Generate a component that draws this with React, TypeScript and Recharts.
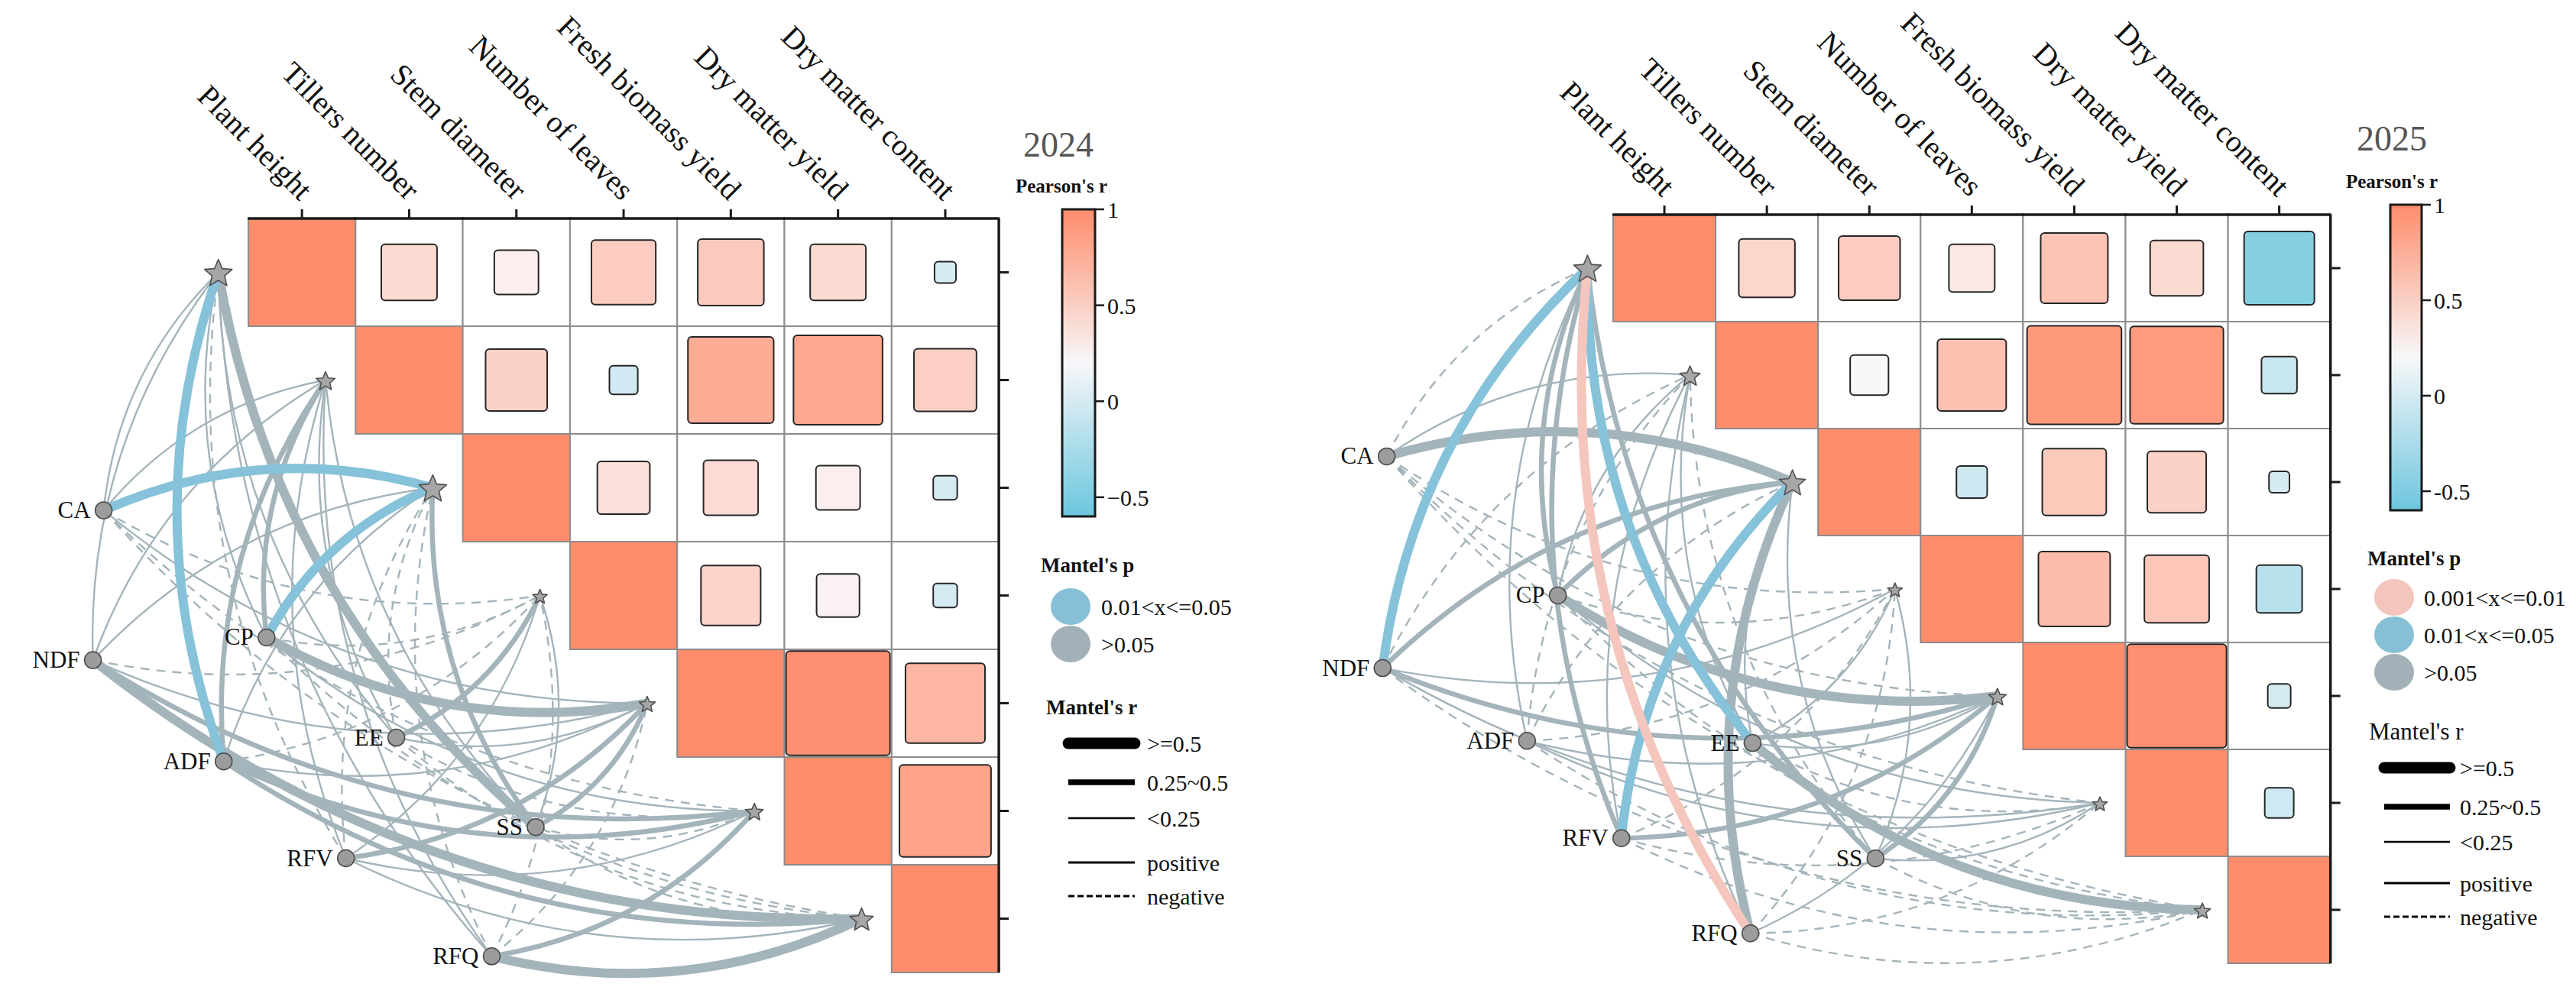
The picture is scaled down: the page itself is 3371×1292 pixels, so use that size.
import React from "react";
import { ScatterChart, Scatter, XAxis, YAxis } from "recharts";

const FONT = "Liberation Serif, Times New Roman, serif";
const PAGE_W = 3371;
const PAGE_H = 1292;

const specLabels = [
  "Plant height",
  "Tillers number",
  "Stem diameter",
  "Number of leaves",
  "Fresh biomass yield",
  "Dry matter yield",
  "Dry matter content",
];
const envLabels = ["CA", "CP", "NDF", "EE", "ADF", "SS", "RFV", "RFQ"];

// Pearson's r, upper triangle: row i holds columns i..6
const pearson2024 = [
  [1, 0.27, 0.17, 0.36, 0.38, 0.27, -0.04],
  [1, 0.33, -0.07, 0.64, 0.69, 0.34],
  [1, 0.24, 0.26, 0.17, -0.05],
  [1, 0.31, 0.16, -0.05],
  [1, 0.94, 0.55],
  [1, 0.73],
  [1],
];
const pearson2025 = [
  [1, 0.3, 0.36, 0.2, 0.43, 0.27, -0.47],
  [1, 0.14, 0.45, 0.85, 0.83, -0.12],
  [1, -0.09, 0.39, 0.33, -0.04],
  [1, 0.49, 0.4, -0.2],
  [1, 0.94, -0.05],
  [1, -0.08],
  [1],
];

// Mantel's r / p, rows follow envLabels, columns follow specLabels
const mantelR2024 = [
  [0.12, 0.1, 0.55, -0.1, 0.12, -0.08, -0.06],
  [0.15, 0.3, 0.52, -0.1, 0.5, 0.12, -0.1],
  [0.1, 0.12, 0.14, -0.12, 0.2, 0.35, 0.5],
  [0.1, 0.12, -0.08, 0.3, 0.14, -0.1, -0.08],
  [0.52, 0.3, 0.15, -0.1, 0.12, 0.4, 0.3],
  [0.52, 0.12, 0.4, 0.1, 0.28, -0.1, -0.12],
  [-0.08, 0.12, -0.06, 0.1, 0.26, 0.12, 0.18],
  [0.1, 0.1, -0.08, -0.1, -0.12, 0.3, 0.55],
];
const mantelP2024 = [
  [0.3, 0.4, 0.03, 0.6, 0.3, 0.6, 0.7],
  [0.2, 0.1, 0.04, 0.5, 0.07, 0.3, 0.6],
  [0.4, 0.3, 0.3, 0.6, 0.2, 0.08, 0.07],
  [0.4, 0.3, 0.6, 0.1, 0.3, 0.5, 0.6],
  [0.04, 0.1, 0.2, 0.6, 0.3, 0.07, 0.1],
  [0.06, 0.3, 0.1, 0.4, 0.1, 0.6, 0.5],
  [0.6, 0.3, 0.7, 0.4, 0.1, 0.3, 0.2],
  [0.4, 0.4, 0.6, 0.5, 0.5, 0.1, 0.06],
];
const mantelR2025 = [
  [-0.1, 0.1, 0.5, -0.1, -0.08, -0.1, -0.06],
  [0.3, 0.12, 0.28, -0.1, 0.5, 0.12, -0.1],
  [0.55, -0.1, 0.35, 0.2, 0.26, 0.18, -0.1],
  [0.5, 0.12, 0.15, 0.1, 0.2, -0.08, 0.5],
  [0.1, -0.08, -0.1, -0.08, 0.12, 0.12, -0.1],
  [0.3, -0.1, 0.12, 0.1, 0.3, 0.15, -0.1],
  [0.28, 0.1, 0.5, -0.1, 0.26, -0.1, -0.12],
  [0.5, 0.1, 0.5, -0.1, 0.12, -0.1, -0.12],
];
const mantelP2025 = [
  [0.5, 0.4, 0.1, 0.6, 0.6, 0.5, 0.7],
  [0.1, 0.3, 0.1, 0.5, 0.06, 0.3, 0.6],
  [0.02, 0.5, 0.1, 0.2, 0.1, 0.2, 0.5],
  [0.03, 0.3, 0.2, 0.4, 0.2, 0.6, 0.08],
  [0.4, 0.6, 0.5, 0.6, 0.3, 0.3, 0.6],
  [0.1, 0.5, 0.3, 0.4, 0.1, 0.2, 0.5],
  [0.1, 0.4, 0.03, 0.5, 0.1, 0.6, 0.5],
  [0.008, 0.4, 0.07, 0.5, 0.3, 0.6, 0.5],
];

// node layout in cell units (column / row of the heatmap)
const envLayout2024 = [
  [-1.85, 2.21], [-0.33, 3.39], [-1.95, 3.6], [0.88, 4.32],
  [-0.73, 4.54], [2.18, 5.15], [0.41, 5.44], [1.77, 6.35],
];
const envLayout2025 = [
  [-2.71, 1.76], [-1.04, 3.06], [-2.75, 3.74], [0.86, 4.44],
  [-1.34, 4.42], [2.06, 5.52], [-0.42, 5.33], [0.84, 6.22],
];
const starSize2024 = [19, 13, 19, 10, 11, 12, 16];
const starSize2025 = [19, 14, 18, 10, 12, 10, 11];

const SALMON = [255, 140, 107];
const WHITE = [250, 248, 250];
const SKY = [108, 198, 222];

function mix(a: number[], b: number[], t: number) {
  const c = a.map((v, i) => Math.round(v + (b[i] - v) * t));
  return `rgb(${c[0]},${c[1]},${c[2]})`;
}
function pearsonColor(r: number) {
  if (r >= 0.15) return mix(WHITE, SALMON, Math.pow(Math.min(1, (r - 0.15) / 0.85), 0.65));
  return mix(WHITE, SKY, Math.min(1, (0.15 - r) / 0.75));
}
function linkColor(p: number) {
  if (p <= 0.01) return "#F4C6BD";
  if (p <= 0.05) return "#86C2D9";
  return "#A4B4BB";
}
function linkWidth(r: number) {
  const a = Math.abs(r);
  if (a >= 0.5) return 12;
  if (a >= 0.25) return 6.5;
  return 2.4;
}
function starPoints(cx: number, cy: number, R: number) {
  const pts: string[] = [];
  for (let i = 0; i < 10; i++) {
    const rad = i % 2 === 0 ? R : R * 0.45;
    const a = -Math.PI / 2 + (i * Math.PI) / 5;
    pts.push(`${cx + rad * Math.cos(a)},${cy + rad * Math.sin(a)}`);
  }
  return pts.join(" ");
}

const panels = [
  {
    key: "2024",
    left: 0,
    width: 1680,
    gridLeft: 325,
    gridTop: 286,
    cellW: 140.3,
    cellH: 141,
    starShift: 0.78,
    pearson: pearson2024,
    mantelR: mantelR2024,
    mantelP: mantelP2024,
    envLayout: envLayout2024,
    starSize: starSize2024,
  },
  {
    key: "2025",
    left: 1680,
    width: 1691,
    gridLeft: 431,
    gridTop: 281,
    cellW: 134.1,
    cellH: 140,
    starShift: 0.75,
    pearson: pearson2025,
    mantelR: mantelR2025,
    mantelP: mantelP2025,
    envLayout: envLayout2025,
    starSize: starSize2025,
  },
];

function Panel({ cfg }: { cfg: (typeof panels)[number] }) {
  const { cellW, cellH } = cfg;
  const xDom = [-0.5 - cfg.gridLeft / cellW, -0.5 + (cfg.width - cfg.gridLeft) / cellW];
  const yDom = [-0.5 - cfg.gridTop / cellH, -0.5 + (PAGE_H - cfg.gridTop) / cellH];

  const cells = cfg.pearson.flatMap((row, i) =>
    row.map((r, k) => ({ x: i + k, y: i, r, diag: k === 0 }))
  );
  const header = specLabels.map((label, i) => ({ x: i, y: -0.5, label }));
  const rightEdge = specLabels.map((_, i) => ({ x: 6.5, y: i }));
  const stars = specLabels.map((_, i) => ({ x: i - cfg.starShift, y: i, size: cfg.starSize[i] }));
  const envs = envLabels.map((label, k) => ({ x: cfg.envLayout[k][0], y: cfg.envLayout[k][1], label }));

  const links = envLabels.flatMap((_, e) =>
    specLabels.map((__, s) => ({ e, s, r: cfg.mantelR[e][s], p: cfg.mantelP[e][s] }))
  );
  const rank = (l: { r: number; p: number }) => (l.p <= 0.05 ? 10 : 0) + linkWidth(l.r);
  links.sort((a, b) => rank(a) - rank(b));
  const linkPts = links.flatMap((l) => [
    { x: envs[l.e].x, y: envs[l.e].y },
    { x: stars[l.s].x, y: stars[l.s].y },
  ]);

  const drawLinks = (lp: any) => {
    const pts = lp.points || [];
    return (
      <g>
        {links.map((l, k) => {
          const a = pts[2 * k];
          const b = pts[2 * k + 1];
          if (!a || !b) return null;
          const dx = b.x - a.x;
          const dy = b.y - a.y;
          const up = l.s <= 2;
          const px = up ? dy : -dy;
          const py = up ? -dx : dx;
          const c = 0.18;
          const qx = (a.x + b.x) / 2 + px * c;
          const qy = (a.y + b.y) / 2 + py * c;
          return (
            <path
              key={k}
              d={`M${a.x},${a.y} Q${qx},${qy} ${b.x},${b.y}`}
              fill="none"
              stroke={linkColor(l.p)}
              strokeWidth={linkWidth(l.r)}
              strokeDasharray={l.r < 0 ? "12 9" : undefined}
            />
          );
        })}
      </g>
    );
  };

  return (
    <div style={{ position: "absolute", left: cfg.left, top: 0 }}>
      <ScatterChart width={cfg.width} height={PAGE_H} margin={{ top: 0, right: 0, bottom: 0, left: 0 }}>
        <XAxis type="number" dataKey="x" domain={xDom} hide allowDataOverflow />
        <YAxis type="number" dataKey="y" domain={yDom} reversed hide allowDataOverflow />
        <Scatter
          data={cells}
          isAnimationActive={false}
          shape={(p: any) => {
            const { cx, cy, payload } = p;
            const fill = pearsonColor(payload.r);
            const s = Math.sqrt(Math.abs(payload.r));
            return (
              <g>
                <rect x={cx - cellW / 2} y={cy - cellH / 2} width={cellW} height={cellH}
                  fill={payload.diag ? fill : "#fff"} stroke="#8c8c8c" strokeWidth={2} />
                {!payload.diag && (
                  <rect x={cx - (s * cellW) / 2} y={cy - (s * cellH) / 2} width={s * cellW} height={s * cellH}
                    rx={5} fill={fill} stroke="#262626" strokeWidth={2} />
                )}
              </g>
            );
          }}
        />
        <Scatter
          data={header}
          isAnimationActive={false}
          shape={(p: any) => (
            <g>
              <line x1={p.cx - cellW / 2 - 1} x2={p.cx + cellW / 2 + 1} y1={p.cy} y2={p.cy} stroke="#1a1a1a" strokeWidth={3.5} />
              <line x1={p.cx} x2={p.cx} y1={p.cy} y2={p.cy - 12} stroke="#1a1a1a" strokeWidth={3} />
              <text x={p.cx - 3} y={p.cy - 22} transform={`rotate(45 ${p.cx - 3} ${p.cy - 22})`}
                textAnchor="end" fontFamily={FONT} fontSize={40} fill="#111">
                {p.payload.label}
              </text>
            </g>
          )}
        />
        <Scatter
          data={rightEdge}
          isAnimationActive={false}
          shape={(p: any) => (
            <g>
              <line x1={p.cx} x2={p.cx} y1={p.cy - cellH / 2} y2={p.cy + cellH / 2} stroke="#1a1a1a" strokeWidth={3.5} />
              <line x1={p.cx} x2={p.cx + 13} y1={p.cy} y2={p.cy} stroke="#1a1a1a" strokeWidth={3} />
            </g>
          )}
        />
        <Scatter data={linkPts} isAnimationActive={false} line={drawLinks} lineType="joint" shape={() => <g />} />
        <Scatter
          data={envs}
          isAnimationActive={false}
          shape={(p: any) => (
            <g>
              <circle cx={p.cx} cy={p.cy} r={11} fill="#9c9c9c" stroke="#4a4a4a" strokeWidth={1.5} />
              <text x={p.cx - 17} y={p.cy + 10} textAnchor="end" fontFamily={FONT} fontSize={31} fill="#111">
                {p.payload.label}
              </text>
            </g>
          )}
        />
        <Scatter
          data={stars}
          isAnimationActive={false}
          shape={(p: any) => (
            <polygon points={starPoints(p.cx, p.cy + 2, p.payload.size)} fill="#a6a6a6" stroke="#505050" strokeWidth={1.6} strokeLinejoin="round" />
          )}
        />
      </ScatterChart>
    </div>
  );
}

const legendCfg = [
  {
    id: "a",
    year: "2024", yearX: 1385, yearY: 205,
    prX: 1389, prY: 252,
    cbX: 1390, cbY: 274, cbW: 43, cbH: 402, tickX: 1449, minus: "\u22120.5",
    mpX: 1362, mpY: 749,
    ellX: 1401, ellLabelX: 1441,
    pItems: [
      { label: "0.01<x<=0.05", color: "#86BFD6", y: 794 },
      { label: ">0.05", color: "#A2B1B7", y: 843 },
    ],
    mrX: 1369, mrY: 935, mrBold: true,
    lx1: 1398, lx2: 1485, lLabelX: 1501, lYs: [973, 1024, 1071, 1129, 1173],
  },
  {
    id: "b",
    year: "2025", yearX: 3130, yearY: 197,
    prX: 3130, prY: 246,
    cbX: 3128, cbY: 268, cbW: 41, cbH: 400, tickX: 3185, minus: "-0.5",
    mpX: 3098, mpY: 740,
    ellX: 3133, ellLabelX: 3172,
    pItems: [
      { label: "0.001<x<=0.01", color: "#F3C5BD", y: 782 },
      { label: "0.01<x<=0.05", color: "#86BFD6", y: 831 },
      { label: ">0.05", color: "#A2B1B7", y: 880 },
    ],
    mrX: 3100, mrY: 968, mrBold: false,
    lx1: 3120, lx2: 3206, lLabelX: 3219, lYs: [1005, 1056, 1102, 1156, 1200],
  },
];

const colorTicks = [1, 0.5, 0, -0.5];
const widthItems = [
  { label: ">=0.5", w: 15, dash: undefined as string | undefined },
  { label: "0.25~0.5", w: 7.5, dash: undefined },
  { label: "<0.25", w: 2.6, dash: undefined },
  { label: "positive", w: 2.8, dash: undefined },
  { label: "negative", w: 2.8, dash: "8 4" },
];

function LegendLayer() {
  return (
    <svg width={PAGE_W} height={PAGE_H} style={{ position: "absolute", left: 0, top: 0, pointerEvents: "none" }}>
      {legendCfg.map((c) => (
        <g key={c.id} fontFamily={FONT}>
          <defs>
            <linearGradient id={`cb-${c.id}`} x1="0" y1="1" x2="0" y2="0">
              <stop offset="0%" stopColor="rgb(108,198,222)" />
              <stop offset="50%" stopColor="#f7f7f9" />
              <stop offset="100%" stopColor="rgb(255,140,107)" />
            </linearGradient>
          </defs>
          <text x={c.yearX} y={c.yearY} textAnchor="middle" fontSize={46} fill="#555">{c.year}</text>
          <text x={c.prX} y={c.prY} textAnchor="middle" fontSize={25} fontWeight="bold" fill="#111">Pearson's r</text>
          <rect x={c.cbX} y={c.cbY} width={c.cbW} height={c.cbH} fill={`url(#cb-${c.id})`} stroke="#1a1a1a" strokeWidth={3} />
          {colorTicks.map((v) => {
            const y = c.cbY + ((1 - v) / 1.6) * c.cbH;
            return (
              <g key={v}>
                <line x1={c.cbX + c.cbW} x2={c.cbX + c.cbW + 12} y1={y} y2={y} stroke="#1a1a1a" strokeWidth={2.5} />
                <text x={c.tickX} y={y + 11} fontSize={30} fill="#111">{v === -0.5 ? c.minus : String(v)}</text>
              </g>
            );
          })}
          <text x={c.mpX} y={c.mpY} fontSize={27} fontWeight="bold" fill="#111">Mantel's p</text>
          {c.pItems.map((it) => (
            <g key={it.label}>
              <ellipse cx={c.ellX} cy={it.y} rx={26} ry={24} fill={it.color} />
              <text x={c.ellLabelX} y={it.y + 11} fontSize={30} fill="#111">{it.label}</text>
            </g>
          ))}
          <text x={c.mrX} y={c.mrY} fontSize={c.mrBold ? 27 : 31} fontWeight={c.mrBold ? "bold" : "normal"} fill="#111">Mantel's r</text>
          {widthItems.map((it, i) => (
            <g key={it.label}>
              <line x1={c.lx1} x2={c.lx2} y1={c.lYs[i]} y2={c.lYs[i]} stroke="#000" strokeWidth={it.w}
                strokeLinecap={i === 0 ? "round" : "butt"} strokeDasharray={it.dash} />
              <text x={c.lLabelX} y={c.lYs[i] + 11} fontSize={30} fill="#111">{it.label}</text>
            </g>
          ))}
        </g>
      ))}
    </svg>
  );
}

export default function App() {
  return (
    <div style={{ position: "absolute", left: 0, top: 0, width: PAGE_W, height: PAGE_H, background: "#fff", fontFamily: FONT }}>
      {panels.map((cfg) => (
        <Panel key={cfg.key} cfg={cfg} />
      ))}
      <LegendLayer />
    </div>
  );
}
